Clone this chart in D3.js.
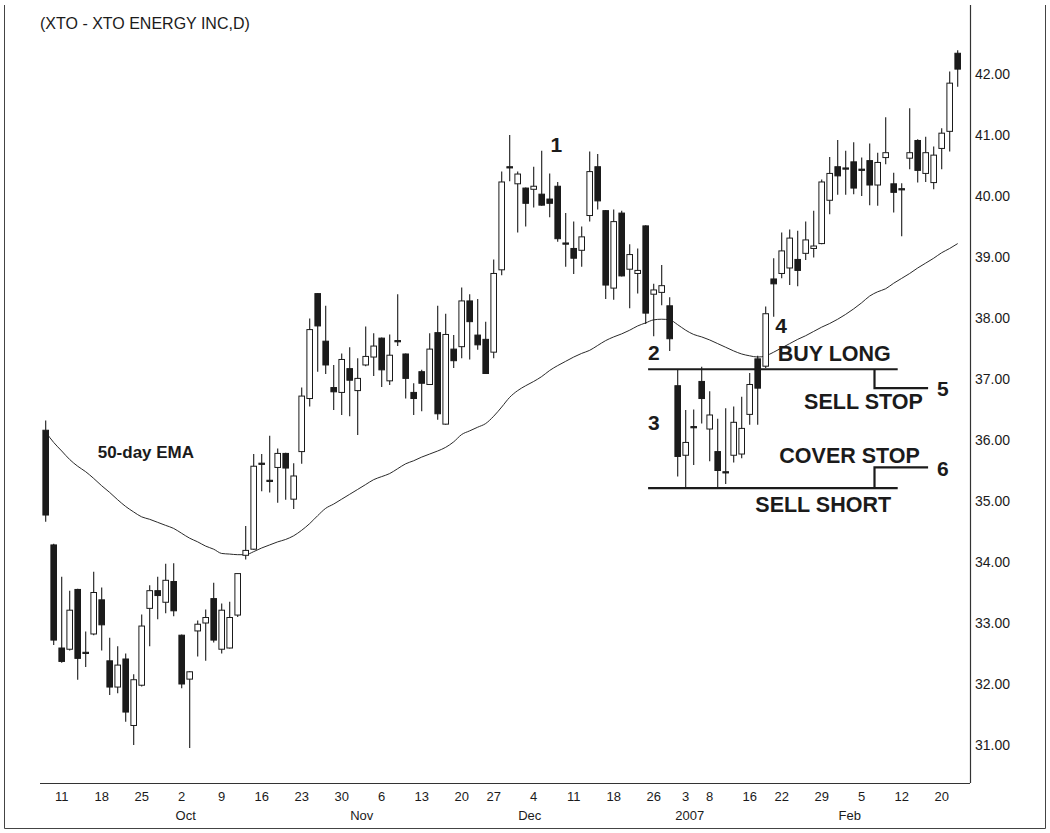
<!DOCTYPE html>
<html><head><meta charset="utf-8">
<script src="https://cdn.jsdelivr.net/npm/d3@7"></script>
<style>
body{margin:0;background:#fff}
svg{display:block}
text{font-family:"Liberation Sans",Arial,Helvetica,sans-serif}
</style>
</head><body>
<svg id="chart" width="1050" height="833"></svg>
<script>
// ---------------- DATA ----------------
const dates = [
"2006-09-07","2006-09-08",
"2006-09-11","2006-09-12","2006-09-13","2006-09-14","2006-09-15",
"2006-09-18","2006-09-19","2006-09-20","2006-09-21","2006-09-22",
"2006-09-25","2006-09-26","2006-09-27","2006-09-28","2006-09-29",
"2006-10-02","2006-10-03","2006-10-04","2006-10-05","2006-10-06",
"2006-10-09","2006-10-10","2006-10-11","2006-10-12","2006-10-13",
"2006-10-16","2006-10-17","2006-10-18","2006-10-19","2006-10-20",
"2006-10-23","2006-10-24","2006-10-25","2006-10-26","2006-10-27",
"2006-10-30","2006-10-31","2006-11-01","2006-11-02","2006-11-03",
"2006-11-06","2006-11-07","2006-11-08","2006-11-09","2006-11-10",
"2006-11-13","2006-11-14","2006-11-15","2006-11-16","2006-11-17",
"2006-11-20","2006-11-21","2006-11-22","2006-11-24",
"2006-11-27","2006-11-28","2006-11-29","2006-11-30","2006-12-01",
"2006-12-04","2006-12-05","2006-12-06","2006-12-07","2006-12-08",
"2006-12-11","2006-12-12","2006-12-13","2006-12-14","2006-12-15",
"2006-12-18","2006-12-19","2006-12-20","2006-12-21","2006-12-22",
"2006-12-26","2006-12-27","2006-12-28","2006-12-29",
"2007-01-03","2007-01-04","2007-01-05",
"2007-01-08","2007-01-09","2007-01-10","2007-01-11","2007-01-12",
"2007-01-16","2007-01-17","2007-01-18","2007-01-19",
"2007-01-22","2007-01-23","2007-01-24","2007-01-25","2007-01-26",
"2007-01-29","2007-01-30","2007-01-31","2007-02-01","2007-02-02",
"2007-02-05","2007-02-06","2007-02-07","2007-02-08","2007-02-09",
"2007-02-12","2007-02-13","2007-02-14","2007-02-15","2007-02-16",
"2007-02-20","2007-02-21","2007-02-22"];

const open = [36.16,34.28,32.59,32.57,33.55,32.52,32.82,33.38,32.38,31.95,
32.41,31.32,31.98,33.24,33.53,33.34,33.68,32.80,32.08,32.87,
33.00,33.40,32.57,32.59,33.13,34.11,34.21,35.62,35.34,35.55,
35.78,35.03,35.81,36.68,38.40,37.62,36.86,36.78,37.17,36.81,
37.23,37.36,37.67,36.97,37.63,37.41,36.78,37.12,36.91,37.76,
36.26,37.49,37.53,38.28,37.72,37.65,37.44,38.79,40.48,40.20,
40.13,40.11,40.03,39.95,40.16,39.23,39.14,39.11,39.68,40.48,
39.76,38.49,39.72,38.80,38.73,39.51,38.39,38.42,38.20,36.89,
35.75,36.22,36.96,36.18,35.81,35.48,35.75,35.77,36.42,37.33,
37.21,38.64,38.73,38.82,38.96,39.06,39.14,39.22,39.93,40.48,
40.46,40.56,40.44,40.58,40.18,40.63,40.20,40.12,40.62,40.91,
40.37,40.22,40.78,41.06,42.34];
const high = [36.32,34.30,33.76,33.53,33.56,32.86,33.84,33.58,32.76,32.62,
32.50,32.16,33.14,33.62,33.76,33.97,33.98,32.81,32.21,33.04,
33.22,33.66,33.32,33.35,33.81,34.59,35.77,35.77,36.07,35.86,
35.79,35.62,36.86,37.99,38.41,38.20,37.23,37.42,37.52,37.34,
37.86,37.75,37.68,37.73,38.39,37.42,36.93,37.15,37.75,38.20,
38.07,37.72,38.50,38.39,38.31,37.94,38.96,40.40,41.00,40.40,
40.14,40.48,40.74,40.37,40.23,39.72,39.58,39.50,40.73,40.69,
39.77,39.78,39.76,39.21,39.14,39.52,38.56,38.87,38.34,37.16,
36.49,36.50,37.20,36.80,36.35,36.52,36.55,36.71,37.10,37.38,
38.19,38.98,39.40,39.45,39.43,39.58,39.76,40.27,40.64,40.92,
40.74,40.88,40.63,40.86,40.71,41.29,40.38,40.21,41.44,40.93,
40.97,40.81,41.11,42.04,42.39];
const low = [34.66,32.64,32.35,32.55,32.07,32.28,32.80,32.55,31.82,31.85,
31.38,31.00,31.96,32.62,33.06,33.16,33.11,31.93,30.95,32.45,
32.38,32.68,32.50,32.58,33.10,34.04,34.20,35.16,35.14,34.97,
35.02,34.87,35.61,36.55,37.12,37.08,36.49,36.41,36.39,36.08,
37.21,37.05,36.87,36.90,37.54,36.68,36.41,36.47,36.90,36.33,
36.25,37.18,37.34,37.32,37.48,37.09,37.34,38.70,40.24,39.40,
39.50,39.81,39.84,39.65,39.25,38.84,38.72,38.84,39.58,39.78,
38.31,38.30,38.68,38.16,38.40,37.90,37.70,38.21,37.46,35.40,
35.21,35.59,36.27,35.65,35.21,35.28,35.63,35.70,36.25,36.25,
37.18,38.02,38.65,38.54,38.52,38.95,38.99,39.21,39.70,40.02,
40.02,40.03,40.00,39.85,39.84,40.52,39.73,39.34,40.44,40.22,
40.23,40.11,40.44,40.73,41.79];
const close = [34.77,32.72,32.37,33.21,32.42,32.50,33.50,32.97,31.95,32.31,
31.54,32.07,32.95,33.53,33.45,33.70,33.20,32.00,32.20,32.98,
33.09,32.72,33.21,33.09,33.81,34.19,35.57,35.60,35.32,35.78,
35.54,35.41,36.72,37.81,37.87,37.23,36.79,37.32,36.98,37.01,
37.37,37.54,37.15,37.39,37.61,37.01,36.68,36.93,37.49,36.43,
37.73,37.30,38.28,37.94,37.56,37.09,38.73,40.23,40.46,40.36,
39.88,40.16,39.85,39.88,39.30,39.21,38.98,39.33,40.40,39.92,
38.54,39.58,38.69,39.04,38.78,38.08,38.46,38.53,37.66,35.73,
35.96,36.20,36.68,36.41,35.50,35.46,36.29,36.19,36.91,36.85,
38.07,38.56,39.10,39.31,38.78,39.28,39.18,40.23,40.37,40.33,
40.44,40.13,40.42,40.18,40.55,40.71,40.06,40.10,40.71,40.42,
40.71,40.67,41.03,41.85,42.08];
// 50-day EMA
const ema50 = [36.13,35.96,35.82,35.68,35.57,35.48,35.37,35.25,35.14,35.02,
34.91,34.82,34.74,34.70,34.65,34.60,34.55,34.47,34.39,34.33,
34.26,34.21,34.14,34.13,34.12,34.12,34.17,34.23,34.28,34.33,
34.37,34.43,34.52,34.63,34.76,34.88,34.95,35.03,35.11,35.19,
35.27,35.35,35.40,35.45,35.53,35.61,35.66,35.72,35.77,35.82,
35.88,35.97,36.09,36.15,36.21,36.27,36.39,36.54,36.70,36.81,
36.89,36.96,37.04,37.14,37.22,37.29,37.36,37.42,37.47,37.55,
37.63,37.69,37.74,37.80,37.87,37.92,37.97,37.98,37.97,37.89,
37.80,37.73,37.69,37.64,37.58,37.52,37.46,37.41,37.38,37.36,
37.38,37.44,37.51,37.58,37.65,37.71,37.78,37.85,37.91,37.98,
38.06,38.15,38.25,38.36,38.43,38.48,38.57,38.65,38.73,38.82,
38.90,38.98,39.07,39.14,39.22];

const yTicks = [31,32,33,34,35,36,37,38,39,40,41,42];
const xTickDates = ["2006-09-11","2006-09-18","2006-09-25","2006-10-02","2006-10-09",
"2006-10-16","2006-10-23","2006-10-30","2006-11-06","2006-11-13","2006-11-20",
"2006-11-27","2006-12-04","2006-12-11","2006-12-18","2006-12-26","2007-01-03",
"2007-01-08","2007-01-16","2007-01-22","2007-01-29","2007-02-05","2007-02-12","2007-02-20"];
const monthDates = ["2006-10-02","2006-11-01","2006-12-01","2007-01-03","2007-02-01"];
const monthLabels = ["Oct","Nov","Dec","2007","Feb"];
const title = "(XTO - XTO ENERGY INC,D)";

// trade levels (prices) and their extents (bar index units)
const buyLong = 37.16, sellShort = 35.21, sellStopLevel = 36.85, coverStopLevel = 35.55;
const levelStart = 75.3, levelEnd = 106.5, stepAt = 103.6, stepEnd = 110.3;

// ---------------- CHART ----------------
const svg = d3.select("#chart");
const ink = "#1b1b1b";

const x = d3.scaleBand().domain(dates).range([41.7, 961.7]).padding(0);
const cx = d => x(d) + x.bandwidth() / 2;
const xi = d3.scaleLinear().domain([0, dates.length - 1]).range([cx(dates[0]), cx(dates[dates.length - 1])]);
const y = d3.scaleLinear().domain([31, 42]).range([745, 74]);

const plotLeft = 40, plotRight = 970, plotBottom = 783;

// frame
svg.append("path")
  .attr("d", `M4.5,5 V828.5 H1045.5 V5`)
  .attr("fill", "none").attr("stroke", "#444").attr("stroke-width", 1);

// title
svg.append("text").attr("x", 40).attr("y", 29)
  .attr("font-size", 16).attr("fill", ink).text(title);

// y axis (right)
const yAxis = d3.axisRight(y).tickValues(yTicks).tickSize(0).tickPadding(5)
  .tickFormat(d3.format(".2f"));
const gy = svg.append("g").attr("transform", `translate(${plotRight},0)`).call(yAxis);
gy.select(".domain").remove();
gy.selectAll("text").attr("font-size", 14).attr("fill", ink)
  .style("font-family", '"Liberation Sans",Arial,sans-serif');
svg.append("line").attr("x1", plotRight + 0.5).attr("x2", plotRight + 0.5)
  .attr("y1", 5).attr("y2", plotBottom).attr("stroke", "#333").attr("stroke-width", 1.2);

// x axis
const xAxis = d3.axisBottom(x).tickValues(xTickDates).tickSize(0).tickPadding(9)
  .tickFormat(d => String(+d.slice(8, 10)));
const gx = svg.append("g").attr("transform", `translate(0,${plotBottom})`).call(xAxis);
gx.select(".domain").remove();
gx.selectAll("text").attr("font-size", 13).attr("fill", ink)
  .style("font-family", '"Liberation Sans Narrow","Liberation Sans",Arial,sans-serif');
svg.append("line").attr("x1", plotLeft).attr("x2", plotRight)
  .attr("y1", plotBottom + 0.5).attr("y2", plotBottom + 0.5)
  .attr("stroke", "#333").attr("stroke-width", 1.2);

svg.append("g").selectAll("text").data(monthDates).join("text")
  .attr("x", d => cx(d) + 4).attr("y", plotBottom + 37)
  .attr("text-anchor", "middle").attr("font-size", 13).attr("fill", ink)
  .style("font-family", '"Liberation Sans Narrow","Liberation Sans",Arial,sans-serif')
  .text((d, i) => monthLabels[i]);

// EMA line
const emaLine = d3.line().x((d, i) => cx(dates[i])).y(d => y(d)).curve(d3.curveMonotoneX);
svg.append("path").datum(ema50).attr("d", emaLine)
  .attr("fill", "none").attr("stroke", "#2a2a2a").attr("stroke-width", 1);

// candles
const idx = d3.range(dates.length);
const bw = 5.6;
const cg = svg.append("g");
cg.selectAll("line.wick").data(idx).join("line").attr("class", "wick")
  .attr("x1", i => cx(dates[i])).attr("x2", i => cx(dates[i]))
  .attr("y1", i => y(high[i])).attr("y2", i => y(low[i]))
  .attr("stroke", ink).attr("stroke-width", 1.1);
cg.selectAll("rect.body").data(idx).join("rect").attr("class", "body")
  .attr("x", i => cx(dates[i]) - bw / 2)
  .attr("width", bw)
  .attr("y", i => y(Math.max(open[i], close[i])))
  .attr("height", i => Math.max(1.2, Math.abs(y(open[i]) - y(close[i]))))
  .attr("fill", i => close[i] >= open[i] ? "#fff" : ink)
  .attr("stroke", ink).attr("stroke-width", 1);

// trade levels
const lv = svg.append("g").attr("fill", "none").attr("stroke", ink).attr("stroke-width", 2.2);
lv.append("line").attr("x1", xi(levelStart)).attr("x2", xi(levelEnd))
  .attr("y1", y(buyLong)).attr("y2", y(buyLong));
lv.append("line").attr("x1", xi(levelStart)).attr("x2", xi(levelEnd))
  .attr("y1", y(sellShort)).attr("y2", y(sellShort));
lv.append("path").attr("d", `M${xi(stepAt)},${y(buyLong)} V${y(sellStopLevel)} H${xi(stepEnd)}`);
lv.append("path").attr("d", `M${xi(stepAt)},${y(sellShort)} V${y(coverStopLevel)} H${xi(stepEnd)}`);

// annotations
const bold = (tx, ty, s, size) => svg.append("text").attr("x", tx).attr("y", ty)
  .attr("font-size", size).attr("font-weight", "bold").attr("fill", ink).text(s);
bold(xi(91.5), y(buyLong) - 8, "BUY LONG", 21.5);
bold(xi(94.8), y(sellStopLevel) + 20.5, "SELL STOP", 21.5);
bold(xi(91.7), y(coverStopLevel) - 4, "COVER STOP", 21.5);
bold(xi(88.7), y(sellShort) + 24, "SELL SHORT", 21.5);
bold(xi(75.3), y(buyLong) - 9, "2", 21);
bold(xi(75.3), y(36.16), "3", 21);
bold(xi(91.2), y(37.75), "4", 21);
bold(xi(111.4), y(sellStopLevel) + 7.5, "5", 21);
bold(xi(111.4), y(coverStopLevel) + 8.5, "6", 21);
bold(xi(63.1), y(40.72), "1", 21);
bold(xi(6.5), y(35.7), "50-day EMA", 17);
</script>
</body></html>
